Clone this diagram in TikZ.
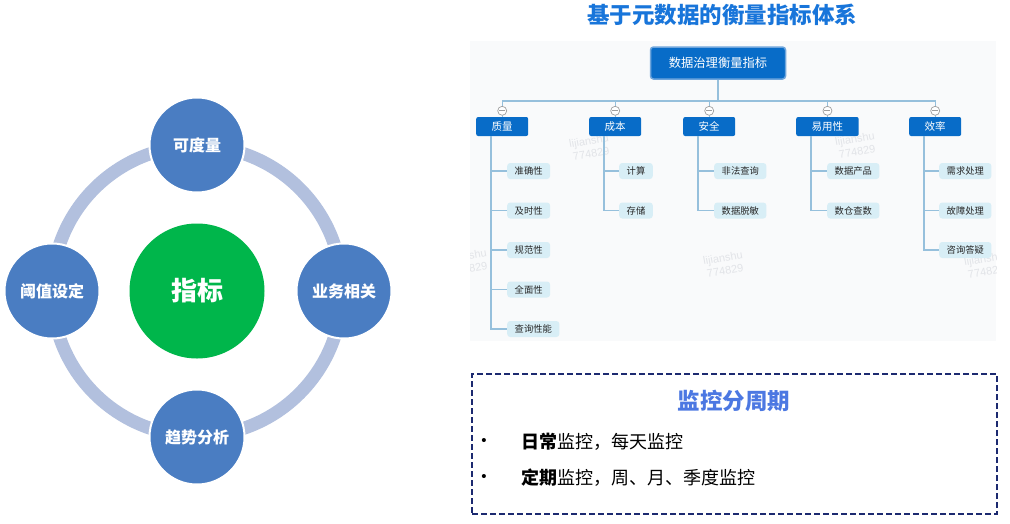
\documentclass[tikz,border=0pt]{standalone}
\usepackage{fontspec}
\setmainfont{Noto Sans CJK SC}
\newfontfamily\wmfont{Liberation Sans}
\usetikzlibrary{calc}
\definecolor{cblue}{RGB}{74,125,194}
\definecolor{cgreen}{RGB}{0,182,75}
\definecolor{cring}{RGB}{178,192,222}
\definecolor{ctitle}{RGB}{24,117,218}
\definecolor{cdark}{RGB}{8,108,200}
\definecolor{cborder}{RGB}{110,165,220}
\definecolor{cleaf}{RGB}{216,238,246}
\definecolor{cline}{RGB}{150,192,220}
\definecolor{cpanel}{RGB}{249,250,251}
\definecolor{cwm}{RGB}{226,228,232}
\definecolor{cnavy}{RGB}{28,42,112}
\definecolor{cmon}{RGB}{76,120,226}
\tikzset{
  bluecirc/.style={circle, fill=cblue, draw=white, line width=2pt, minimum size=95pt, inner sep=0pt, text=white, font=\fontsize{16}{16}\selectfont\bfseries},
  greencirc/.style={circle, fill=cgreen, minimum size=135pt, inner sep=0pt, text=white, font=\fontsize{26}{26}\selectfont\bfseries},
  ringline/.style={draw=cring, line width=13pt},
  rootbox/.style={rectangle, rounded corners=3pt, fill=cdark, draw=cborder, line width=1.5pt, minimum width=135pt, minimum height=32pt, inner sep=0pt, text=white, font=\fontsize{12.3}{12.3}\selectfont},
  catbox/.style={rectangle, rounded corners=2pt, fill=cdark, minimum height=19pt, inner ysep=0pt, inner xsep=15.5pt, text=white, anchor=west, font=\fontsize{10.5}{10.5}\selectfont},
  leafbox/.style={rectangle, rounded corners=3pt, fill=cleaf, minimum height=16pt, inner ysep=0pt, inner xsep=7.5pt, text=black!85, anchor=west, font=\fontsize{9.3}{9.3}\selectfont},
  conn/.style={draw=cline, line width=1.1pt},
  toggle/.style={circle, draw=gray!75, fill=white, line width=0.7pt, minimum size=9pt, inner sep=0pt,
    path picture={\draw[gray!75, line width=0.7pt] ([xshift=-3pt]path picture bounding box.center) -- ([xshift=3pt]path picture bounding box.center);}},
  wmark/.style={text=cwm, rotate=10, align=center, inner sep=0pt, font=\wmfont\fontsize{11}{13}\selectfont},
  monbox/.style={rectangle, draw=cnavy, line width=1.1pt, dash pattern=on 6pt off 3pt, minimum width=525pt, minimum height=140pt, inner sep=0pt},
  bulletmark/.style={anchor=center, inner sep=0pt, text=black, font=\wmfont\fontsize{15}{15}\selectfont},
  bulletline/.style={anchor=west, text=black, font=\fontsize{18}{18}\selectfont}
}
\begin{document}
\begin{tikzpicture}[x=1pt,y=-1pt]
\useasboundingbox (0,0) rectangle (1010,523);
\fill[white] (0,0) rectangle (1010,523);

% ---------- left: ring diagram ----------
\draw[ringline] (197,291) circle (145);
\node[greencirc] (zb) at (197,291) {指标};
\node[bluecirc] (kdl) at (197,145) {可度量};
\node[bluecirc] (ywxg) at (344,291) {业务相关};
\node[bluecirc] (qsfx) at (197,437) {趋势分析};
\node[bluecirc] (yzsd) at (52,291) {阈值设定};

% ---------- right top: tree ----------
\node[text=ctitle, font=\fontsize{22.5}{22.5}\selectfont\bfseries] (title) at (722,14.5) {基于元数据的衡量指标体系};
\fill[cpanel] (470,41) rectangle (996,341);
\begin{scope}
\clip (470,41) rectangle (996,341);
\node[wmark] (wm4) at (590,147) {lijianshu\\774829};
\node[wmark] (wm5) at (856,145) {lijianshu\\774829};
\node[wmark] (wm6) at (468,262) {lijianshu\\774829};
\node[wmark] (wm7) at (724,264) {lijianshu\\774829};
\node[wmark] (wm8) at (985,265) {lijianshu\\774829};
\end{scope}

\node[rootbox] (root) at (718,63) {数据治理衡量指标};
\coordinate (bus) at (718,101);

\node[catbox] (c1) at (476,126.5) {质量};
\node[catbox] (c2) at (589,126.5) {成本};
\node[catbox] (c3) at (683,126.5) {安全};
\node[catbox] (c4) at (796,126.5) {易用性};
\node[catbox] (c5) at (909,126.5) {效率};

\foreach \c in {c1,c2,c3,c4,c5}{
  \draw[conn] (root.south) -- (bus) -| (\c.north);
}
\foreach \c/\t in {c1/t1,c2/t2,c3/t3,c4/t4,c5/t5}{
  \node[toggle] (\t) at ($(\c.north)+(0,-6)$) {};
}

% leaves
\node[leafbox] (l11) at (507,171) {准确性};
\node[leafbox] (l12) at (507,210.5) {及时性};
\node[leafbox] (l13) at (507,250) {规范性};
\node[leafbox] (l14) at (507,289.5) {全面性};
\node[leafbox] (l15) at (507,329) {查询性能};
\node[leafbox] (l21) at (619,171) {计算};
\node[leafbox] (l22) at (619,210.5) {存储};
\node[leafbox] (l31) at (714,171) {非法查询};
\node[leafbox] (l32) at (714,210.5) {数据脱敏};
\node[leafbox] (l41) at (827,171) {数据产品};
\node[leafbox] (l42) at (827,210.5) {数仓查数};
\node[leafbox] (l51) at (939,171) {需求处理};
\node[leafbox] (l52) at (939,210.5) {故障处理};
\node[leafbox] (l53) at (939,250) {咨询答疑};

\foreach \c/\l in {c1/l11,c1/l12,c1/l13,c1/l14,c1/l15,c2/l21,c2/l22,c3/l31,c3/l32,c4/l41,c4/l42,c5/l51,c5/l52,c5/l53}{
  \draw[conn] ([xshift=15pt]\c.south west) |- (\l.west);
}

% ---------- right bottom: monitoring box ----------
\node[monbox] (mon) at (734.5,444) {};
\node[text=cmon, font=\fontsize{22.5}{22.5}\selectfont\bfseries] (montitle) at (734,401) {监控分周期};
\node[bulletmark] (b1) at (484,442) {•};
\node[bulletmark] (b2) at (484,478) {•};
\node[bulletline] (tx1) at (518,442) {\textbf{日常}监控，每天监控};
\node[bulletline] (tx2) at (518,478) {\textbf{定期}监控，周、月、季度监控};
\end{tikzpicture}
\end{document}
